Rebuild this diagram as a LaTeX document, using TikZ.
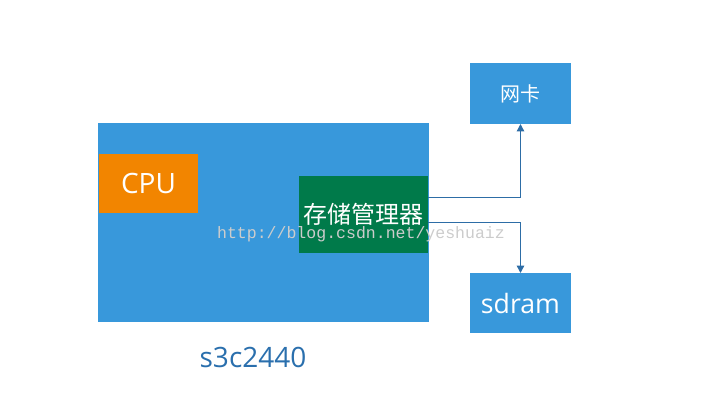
\documentclass[tikz,border=0pt]{standalone}
\usepackage{fontspec}
\setmainfont{Open Sans}
\newfontfamily\cjk{Noto Sans CJK SC}
\newfontfamily\wmfont{Liberation Mono}
\usetikzlibrary{arrows.meta}
\definecolor{chipblue}{HTML}{3898DB}
\definecolor{cpuorange}{HTML}{F28500}
\definecolor{memgreen}{HTML}{007A4A}
\definecolor{linecol}{HTML}{2D6DA6}
\definecolor{labelcol}{HTML}{2A6FAD}
\tikzset{
  blk/.style={rectangle, inner sep=0pt, outer sep=0pt, text=white},
  conn/.style={draw=linecol, line width=1pt, -{Triangle[length=5.5pt,width=5.5pt]}},
}
\begin{document}
\begin{tikzpicture}[x=0.75pt,y=-0.75pt]
\useasboundingbox (0,0) rectangle (704,401);
\node[blk, fill=chipblue, minimum width=248.25pt, minimum height=149.25pt] (chip) at (263.5,222.5) {};
\node[blk, fill=cpuorange, minimum width=74.25pt, minimum height=44.25pt, font=\fontsize{21}{24}\selectfont] (cpu) at (148.5,183.5) {CPU};
\node[blk, fill=memgreen, minimum width=96.75pt, minimum height=57.75pt, font=\cjk\fontsize{18}{21}\selectfont] (mem) at (363.5,214.5) {存储管理器};
\node[blk, fill=chipblue, minimum width=75.75pt, minimum height=45.75pt, font=\cjk\fontsize{15}{18}\selectfont] (nic) at (520.5,93.5) {网卡};
\node[blk, fill=chipblue, minimum width=75.75pt, minimum height=45pt, font=\fontsize{20}{23}\selectfont] (sdram) at (520.5,303) {sdram};
\node[text=labelcol, font=\fontsize{21}{25}\selectfont] (lbl) at (253,357) {s3c2440};
\coordinate (y1) at (0,197.3);
\coordinate (y2) at (0,222.3);
\draw[conn] (mem.east |- y1) -| (nic.south);
\draw[conn] (mem.east |- y2) -| (sdram.north);
\node[text=black!20, font=\wmfont\fontsize{12.4}{14}\selectfont, inner sep=0pt] (wm) at (361,234.5) {http://blog.csdn.net/yeshuaiz};
\end{tikzpicture}
\end{document}
